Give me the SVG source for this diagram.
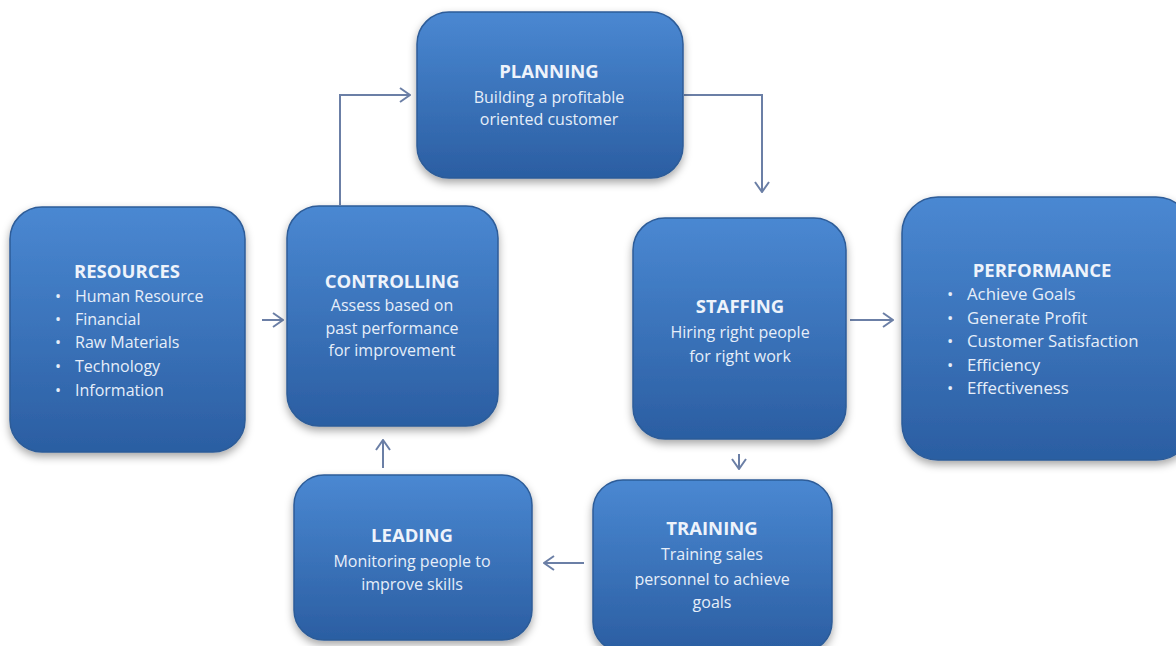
<svg xmlns="http://www.w3.org/2000/svg" width="1176" height="646" viewBox="0 0 1176 646">
<defs>
<linearGradient id="g" x1="0" y1="0" x2="0" y2="1">
<stop offset="0" stop-color="#4a88d2"/>
<stop offset="1" stop-color="#2b5ea2"/>
</linearGradient>
<filter id="sh" x="-10%" y="-10%" width="120%" height="125%">
<feDropShadow dx="0" dy="4" stdDeviation="4" flood-color="#000" flood-opacity="0.35"/>
</filter>
<marker id="arr" viewBox="0 0 12 16" refX="11" refY="8" markerWidth="12" markerHeight="16" markerUnits="userSpaceOnUse" orient="auto">
<path d="M1,1 L11,8 L1,15" fill="none" stroke="#6b7fa6" stroke-width="2"/>
</marker>
</defs>
<style>
.box{fill:url(#g);stroke:#2d5c98;stroke-width:1.5;filter:url(#sh)}
.t{font-family:"Open Sans","Liberation Sans",sans-serif;font-weight:bold;font-size:18.5px;fill:#eef3fb;text-anchor:middle}
.b{font-family:"Open Sans","Liberation Sans",sans-serif;font-size:16px;fill:#e6eef9;text-anchor:middle}
.l{font-family:"Open Sans","Liberation Sans",sans-serif;font-size:16px;fill:#e6eef9}
.c{fill:none;stroke:#6b7fa6;stroke-width:2;marker-end:url(#arr)}
</style>
<rect width="1176" height="646" fill="#ffffff"/>
<g id="connectors">
<path class="c" d="M340,205 V95 H410"/>
<path class="c" d="M684,95 H762 V192"/>
<path class="c" d="M262,320 H283"/>
<path class="c" d="M850,320 H893"/>
<path class="c" d="M739,454 V469"/>
<path class="c" d="M584,563 H544"/>
<path class="c" d="M383,468 V440"/>
</g>
<g id="resources">
<rect class="box" x="10" y="207" width="235" height="245" rx="32"/>
<text class="t" x="127" y="278">RESOURCES</text>
<g class="l"><text x="55" y="302">•</text><text x="75" y="302">Human Resource</text>
<text x="55" y="325">•</text><text x="75" y="325">Financial</text>
<text x="55" y="348">•</text><text x="75" y="348">Raw Materials</text>
<text x="55" y="372">•</text><text x="75" y="372">Technology</text>
<text x="55" y="396">•</text><text x="75" y="396">Information</text></g>
</g>
<g id="controlling">
<rect class="box" x="287" y="206" width="211" height="220" rx="32"/>
<text class="t" x="392" y="288">CONTROLLING</text>
<text class="b" x="392" y="311">Assess based on</text>
<text class="b" x="392" y="334">past performance</text>
<text class="b" x="392" y="356">for improvement</text>
</g>
<g id="planning">
<rect class="box" x="417" y="12" width="266" height="166" rx="32"/>
<text class="t" x="549" y="78">PLANNING</text>
<text class="b" x="549" y="103">Building a profitable</text>
<text class="b" x="549" y="125">oriented customer</text>
</g>
<g id="staffing">
<rect class="box" x="633" y="218" width="213" height="221" rx="32"/>
<text class="t" x="740" y="313">STAFFING</text>
<text class="b" x="740" y="338">Hiring right people</text>
<text class="b" x="740" y="362">for right work</text>
</g>
<g id="performance">
<rect class="box" x="902" y="197" width="290" height="263" rx="36"/>
<text class="t" x="1042" y="277">PERFORMANCE</text>
<g class="l" style="font-size:16.8px"><text x="947" y="300">•</text><text x="967" y="300">Achieve Goals</text>
<text x="947" y="324">•</text><text x="967" y="324">Generate Profit</text>
<text x="947" y="347">•</text><text x="967" y="347">Customer Satisfaction</text>
<text x="947" y="371">•</text><text x="967" y="371">Efficiency</text>
<text x="947" y="394">•</text><text x="967" y="394">Effectiveness</text></g>
</g>
<g id="leading">
<rect class="box" x="294" y="475" width="238" height="165" rx="30"/>
<text class="t" x="412" y="542">LEADING</text>
<text class="b" x="412" y="567">Monitoring people to</text>
<text class="b" x="412" y="590">improve skills</text>
</g>
<g id="training">
<rect class="box" x="593" y="480" width="239" height="172" rx="30"/>
<text class="t" x="712" y="535">TRAINING</text>
<text class="b" x="712" y="560">Training sales</text>
<text class="b" x="712" y="585">personnel to achieve</text>
<text class="b" x="712" y="608">goals</text>
</g>
</svg>
